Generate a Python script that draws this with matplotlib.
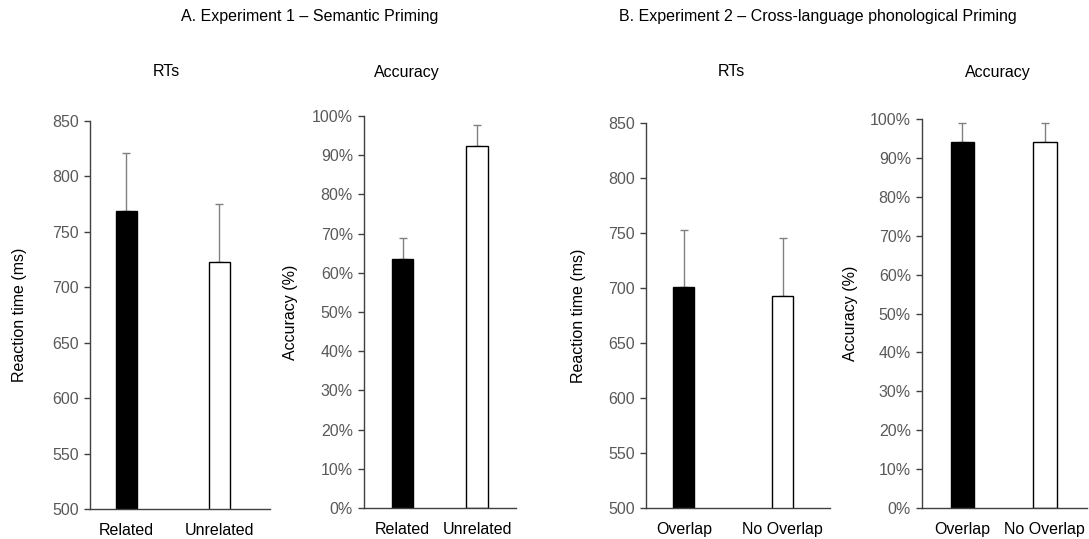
import matplotlib.pyplot as plt
from matplotlib.ticker import FuncFormatter

plt.rcParams['font.family'] = ['Liberation Sans', 'DejaVu Sans']

# Experiment 1 - semantic priming
exp1_labels = ['Related', 'Unrelated']
exp1_rt = [769, 723]
exp1_rt_err = [52, 52]
exp1_acc = [0.636, 0.923]
exp1_acc_err = [0.054, 0.053]

# Experiment 2 - cross-language phonological priming
exp2_labels = ['Overlap', 'No Overlap']
exp2_rt = [701, 693]
exp2_rt_err = [52, 52]
exp2_acc = [0.942, 0.942]
exp2_acc_err = [0.048, 0.048]

W, H = 1089, 539
FS = 11.5
fig = plt.figure(figsize=(W / 100, H / 100), dpi=100)


def add_panel(box, labels, vals, errs, ylim, yticks, ylabel, label_x, xlim, bw, pct=False):
    l, r, b, t = box
    ax = fig.add_axes([l / W, 1 - b / H, (r - l) / W, (b - t) / H])
    x = range(len(vals))
    ax.bar(x, vals, bw, color=['black', 'white'], edgecolor='black', linewidth=1.0, zorder=2)
    ax.errorbar(x, vals, yerr=[[0] * len(errs), errs], fmt='none', ecolor='#808080',
                elinewidth=1.0, capsize=3, capthick=1.0, zorder=1)
    ax.set_ylim(*ylim)
    ax.set_xlim(*xlim)
    ax.set_yticks(yticks)
    if pct:
        ax.yaxis.set_major_formatter(FuncFormatter(lambda v, p: f'{v * 100:.0f}%'))
    ax.set_xticks(list(x))
    ax.set_xticklabels(labels, fontsize=FS)
    ax.tick_params(axis='x', length=0, pad=10)
    ax.tick_params(axis='y', length=4, width=1, labelsize=FS, labelcolor='#595959',
                   color='#404040', pad=4)
    ax.set_ylabel(ylabel, fontsize=FS, va='center')
    ax.yaxis.set_label_coords((label_x - l) / (r - l), 0.5)
    for s in ['top', 'right']:
        ax.spines[s].set_visible(False)
    for s in ['left', 'bottom']:
        ax.spines[s].set_color('#404040')
        ax.spines[s].set_linewidth(1.0)
    return ax


add_panel((90, 270, 509, 121), exp1_labels, exp1_rt, exp1_rt_err, (500, 850),
          range(500, 851, 50), 'Reaction time (ms)', 20, (-0.392, 1.543), 0.226)
add_panel((364, 516, 508, 116), exp1_labels, exp1_acc, exp1_acc_err, (0, 1),
          [i / 10 for i in range(11)], 'Accuracy (%)', 291, (-0.517, 1.523), 0.29, pct=True)
add_panel((646, 830, 508, 123), exp2_labels, exp2_rt, exp2_rt_err, (500, 850),
          range(500, 851, 50), 'Reaction time (ms)', 578, (-0.383, 1.481), 0.21)
add_panel((922, 1087, 508, 119), exp2_labels, exp2_acc, exp2_acc_err, (0, 1),
          [i / 10 for i in range(11)], 'Accuracy (%)', 850, (-0.492, 1.516), 0.29, pct=True)

fig.text(310 / W, 1 - 17 / H, 'A. Experiment 1 – Semantic Priming', ha='center', va='center', fontsize=FS)
fig.text(818 / W, 1 - 17 / H, 'B. Experiment 2 – Cross-language phonological Priming', ha='center', va='center', fontsize=FS)
fig.text(166 / W, 1 - 72 / H, 'RTs', ha='center', va='center', fontsize=FS)
fig.text(407 / W, 1 - 72 / H, 'Accuracy', ha='center', va='center', fontsize=FS)
fig.text(731 / W, 1 - 72 / H, 'RTs', ha='center', va='center', fontsize=FS)
fig.text(998 / W, 1 - 72 / H, 'Accuracy', ha='center', va='center', fontsize=FS)

fig.savefig('out.png', dpi=100)
